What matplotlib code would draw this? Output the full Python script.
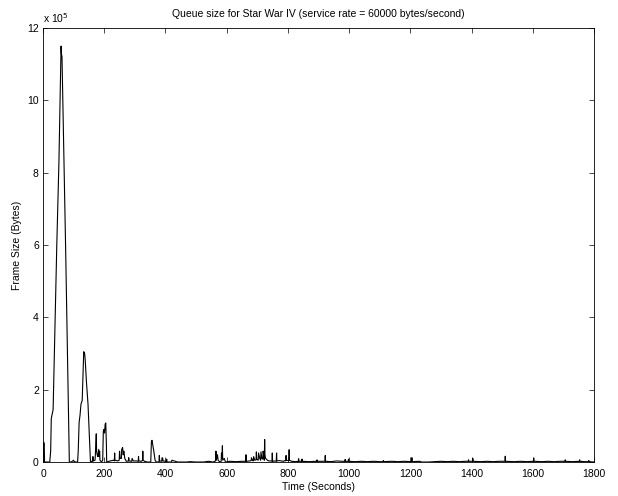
import matplotlib.pyplot as plt
import numpy as np

plt.rcParams['font.family'] = ['Liberation Sans', 'DejaVu Sans']

# queue occupancy over time (seconds, units of 1e5 bytes)
t_sec = [0, 2, 3, 4, 5, 22, 25, 27, 33, 45, 52, 59, 60, 62, 74, 86, 92, 100, 101, 106,
         113, 115, 118, 121, 124, 128, 133, 136, 138, 142, 147, 151, 155,
         158, 162, 163, 164, 170, 171, 174, 175, 177, 179, 182, 183, 185, 186, 188, 191, 195,
         197, 199, 201, 203, 205, 207, 208, 215, 230, 233, 234, 235, 244, 249, 250, 252,
         256, 257, 260, 262, 264, 265, 267, 272, 279, 280, 281, 290, 291, 295, 305,
         311, 312, 313, 322, 325, 326, 327, 332, 340,
         352, 354, 356, 359, 362, 366, 370, 378, 379, 380, 381, 388, 389, 391, 392, 400,
         403, 404, 405, 420, 421, 440, 470, 480, 500, 525, 540, 555, 562, 564, 565, 566,
         570, 572, 578, 582, 583, 585, 586, 587, 592, 596, 610, 630, 650, 662, 663, 664,
         675, 680, 681, 684, 687, 688, 692, 696, 697, 698, 703, 704, 708, 711, 712, 715,
         718, 719, 721, 723, 724, 725, 727, 733, 738, 745, 748, 749, 750, 758, 762, 763,
         764, 772, 785, 790, 793, 794, 795, 801, 803, 804, 805, 812, 825,
         834, 835, 836, 845, 846, 847, 870, 890, 894, 895, 896, 915, 921, 922, 923, 940,
         960, 975, 986, 987, 988, 997, 998, 999, 1020, 1040, 1060, 1080, 1100, 1111,
         1112, 1113, 1140, 1160, 1180, 1204, 1205, 1206, 1230, 1237, 1259, 1280, 1300,
         1320, 1340, 1360, 1380, 1389, 1390, 1391, 1403, 1404, 1405, 1430, 1450, 1470,
         1490, 1509, 1510, 1511, 1540, 1560, 1580, 1602, 1603, 1604, 1630, 1650, 1670,
         1690, 1705, 1706, 1707, 1730, 1752, 1753, 1754, 1770, 1782, 1783, 1784, 1800]
queue_e5 = [0, 0.55, 0.52, 0.5, 0, 0, 0.3, 1.2, 1.45, 6.0, 8.3, 11.5, 11.3, 11.2, 5.86, 0, 0, 0.05, 0.02, 0,
            0, 0.3, 1.1, 1.3, 1.6, 1.7, 3.05, 3.0, 2.8, 2.2, 1.6, 0.8, 0,
            0.02, 0.02, 0.15, 0.03, 0.05, 0.2, 0.78, 0.3, 0.2, 0.15, 0.35, 0.15, 0.3, 0.05, 0.03, 0.0, 0.05,
            0.85, 0.9, 0.8, 1.05, 1.08, 0.5, 0.0, 0.02, 0.05, 0.03, 0.25, 0.05, 0.03, 0.05, 0.3, 0.1,
            0.1, 0.35, 0.4, 0.2, 0.3, 0.25, 0.1, 0.02, 0.03, 0.12, 0.03, 0.02, 0.1, 0.03, 0.03,
            0.02, 0.15, 0.03, 0.02, 0.05, 0.3, 0.05, 0.02, 0.0,
            0.0, 0.55, 0.6, 0.45, 0.3, 0.05, 0.0, 0.0, 0.02, 0.18, 0.03, 0.02, 0.12, 0.1, 0.03, 0.02,
            0.02, 0.08, 0.0, 0.0, 0.05, 0.0, 0.0, 0.01, 0.0, 0.0, 0.02, 0.0, 0.02, 0.05, 0.3, 0.05,
            0.2, 0.05, 0.0, 0.02, 0.25, 0.1, 0.45, 0.05, 0.1, 0.0, 0.02, 0.01, 0.02, 0.02, 0.2, 0.02,
            0.03, 0.04, 0.12, 0.05, 0.03, 0.15, 0.05, 0.06, 0.28, 0.08, 0.05, 0.25, 0.1, 0.05, 0.28, 0.1,
            0.08, 0.3, 0.2, 0.05, 0.62, 0.2, 0.1, 0.05, 0.03, 0.03, 0.02, 0.25, 0.02, 0.03, 0.02, 0.25,
            0.03, 0.04, 0.02, 0.04, 0.03, 0.18, 0.05, 0.04, 0.03, 0.34, 0.05, 0.02, 0.01,
            0.02, 0.09, 0.02, 0.02, 0.08, 0.02, 0.01, 0.02, 0.01, 0.06, 0.02, 0.02, 0.02, 0.18, 0.02, 0.01,
            0.03, 0.02, 0.02, 0.07, 0.02, 0.02, 0.08, 0.02, 0.01, 0.02, 0.01, 0.02, 0.01, 0.01,
            0.04, 0.01, 0.02, 0.01, 0.02, 0.01, 0.12, 0.01, 0.02, 0.0, 0.0, 0.01, 0.02,
            0.01, 0.02, 0.01, 0.02, 0.02, 0.06, 0.02, 0.02, 0.1, 0.02, 0.01, 0.02, 0.01,
            0.02, 0.02, 0.16, 0.02, 0.01, 0.02, 0.01, 0.02, 0.11, 0.02, 0.01, 0.02, 0.01,
            0.02, 0.02, 0.06, 0.02, 0.01, 0.02, 0.06, 0.02, 0.01, 0.01, 0.04, 0.01, 0.0]

queue = np.array(queue_e5) * 1e5

fig = plt.figure(figsize=(6.18, 4.96), dpi=100)
ax = fig.add_axes([0.0696, 0.0685, 0.8916, 0.875])
ax.plot(t_sec, queue, 'k-', linewidth=0.8)

ax.set_xlim(0, 1800)
ax.set_ylim(0, 12e5)
ax.set_xticks(np.arange(0, 1801, 200))
ax.set_yticks(np.arange(0, 12.1e5, 2e5))
ax.set_yticklabels([str(v) for v in range(0, 13, 2)])
ax.tick_params(direction='in', length=3.6, width=0.5, top=True, right=True, labelsize=7.5, pad=3)
ax.tick_params(axis='x', pad=5)
for s in ax.spines.values():
    s.set_linewidth(0.6)

ax.text(0.0, 1.008, r'x 10$^{5}$', transform=ax.transAxes, fontsize=7.5, ha='left', va='bottom')
ax.set_title('Queue size for Star War IV (service rate = 60000 bytes/second)', fontsize=7.5, pad=8)
ax.set_xlabel('Time (Seconds)', fontsize=7.5, labelpad=2)
ax.set_ylabel('Frame Size (Bytes)', fontsize=7.5, labelpad=4)

fig.savefig('out.png', dpi=100)
